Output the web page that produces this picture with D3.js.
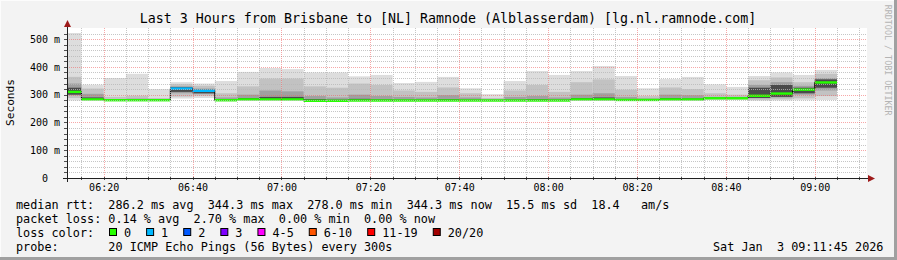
<!DOCTYPE html>
<html>
<head>
<meta charset="utf-8">
<script src="https://cdn.jsdelivr.net/npm/d3@7"></script>
<style>
  html, body { margin: 0; padding: 0; background: #f3f3f3; }
  svg { display: block; }
  text { font-family: "DejaVu Sans Mono", monospace; white-space: pre; }
</style>
</head>
<body>
<svg id="chart" width="897" height="260"></svg>
<script>
// 5 minute bins (start time of each step)
const binTimes = ["06:10","06:15","06:20","06:25","06:30","06:35","06:40","06:45","06:50","06:55",
  "07:00","07:05","07:10","07:15","07:20","07:25","07:30","07:35","07:40","07:45",
  "07:50","07:55","08:00","08:05","08:10","08:15","08:20","08:25","08:30","08:35",
  "08:40","08:45","08:50","08:55","09:00"];

// median rtt per bin (ms)
const medianMs = [310,283,280,280,280,322,314,280,283,283,
  283,278,278,279,279,279,279,279,279,279,
  279,279,279,283,283,281,281,283,283,287,
  287,296,304,318,344];

// lost pings out of 20
const lossCount = [0,0,0,0,0,1,1,0,0,0, 0,0,0,0,0,0,0,0,0,0, 0,0,0,0,0,0,0,0,0,0, 0,0,0,0,0];

// smoke: spread of the 20 pings (ms)
const pingMin = [279,280,278,278,278,286,288,276,279,280, 280,275,275,276,276,276,276,276,276,276,
  276,276,276,279,279,278,278,279,279,281, 281,278,279,280,281];
const pingMax = [522,336,360,375,320,345,340,349,382,396, 392,380,380,366,371,342,346,364,323,302,
  349,385,371,385,403,367,323,356,364,337, 328,367,380,371,389];
const pingLo1 = [288,281,279,279,279,293,296,278,281,282, 282,277,277,277,277,277,277,277,277,277,
  277,277,277,280,280,279,279,281,281,284, 284,281,283,287,295];
const pingHi1 = [364,322,292,296,288,338,332,305,330,358, 358,330,325,340,335,315,310,326,305,288,
  315,335,310,345,355,318,295,326,320,305, 300,352,362,345,375];
const pingLo2 = [298,282,280,280,280,305,302,280,283,283, 283,278,278,278,278,278,278,278,278,278,
  278,278,278,282,282,280,280,282,282,286, 286,287,290,300,315];
const pingHi2 = [340,303,284,286,283,330,322,290,300,315, 312,295,290,300,295,292,290,298,290,284,
  292,295,290,300,305,292,286,300,298,292, 292,335,345,332,360];
const pingLo3 = [300,282,280,280,280,310,305,280,282,283, 283,278,278,278,278,278,278,278,278,278,
  278,278,278,282,282,280,280,282,282,286, 286,288,292,305,325];
const pingHi3 = [325,290,281,281,281,327,318,282,288,292, 292,284,282,285,283,282,282,284,282,280,
  282,284,282,288,290,284,282,288,286,289, 289,325,335,325,355];

const yTicks = [0, 100, 200, 300, 400, 500];

const lossLegend = ["0", "1", "2", "3", "4-5", "6-10", "11-19", "20/20"];
const lossColors = ["#26ff00", "#00b8ff", "#0059ff", "#7e00ff", "#ff00ff", "#ff5500", "#ff0000", "#a10000"];

const legendLines = [
  "median rtt:  286.2 ms avg  344.3 ms max  278.0 ms min  344.3 ms now  15.5 ms sd  18.4   am/s",
  "packet loss: 0.14 % avg  2.70 % max  0.00 % min  0.00 % now",
  "loss color:",
  "probe:       20 ICMP Echo Pings (56 Bytes) every 300s"
];

const title = "Last 3 Hours from Brisbane to [NL] Ramnode (Alblasserdam) [lg.nl.ramnode.com]";
const stamp = "Sat Jan  3 09:11:45 2026";

const W = 897, H = 260;
const plot = { left: 67, top: 28, width: 800, height: 150 };

const parseT = d3.utcParse("%Y-%m-%d %H:%M:%S");
const day = "2026-01-03 ";
const tStart = parseT(day + "06:11:45");
const tEnd = parseT(day + "09:11:45");
const binDates = binTimes.map(t => parseT(day + t + ":00"));

const x = d3.scaleUtc().domain([tStart, tEnd]).range([plot.left, plot.left + plot.width]);
const y = d3.scaleLinear().domain([0, 540]).range([plot.top + plot.height, plot.top]);

const svg = d3.select("#chart");

// background + frame
svg.append("rect").attr("width", W).attr("height", H).attr("fill", "#f3f3f3");
svg.append("line").attr("x1", 0).attr("x2", W).attr("y1", 0.5).attr("y2", 0.5).attr("stroke", "#fcfcfc");
svg.append("line").attr("x1", 0.5).attr("x2", 0.5).attr("y1", 0).attr("y2", H).attr("stroke", "#fcfcfc");
svg.append("rect").attr("x", W - 3).attr("y", 0).attr("width", 3).attr("height", H).attr("fill", "#a0a0a0");
svg.append("rect").attr("x", 0).attr("y", H - 3).attr("width", W).attr("height", 3).attr("fill", "#a0a0a0");

svg.append("rect")
  .attr("x", plot.left).attr("y", plot.top)
  .attr("width", plot.width).attr("height", plot.height)
  .attr("fill", "#ffffff");

svg.append("clipPath").attr("id", "clip")
  .append("rect")
  .attr("x", plot.left).attr("y", plot.top)
  .attr("width", plot.width).attr("height", plot.height);

const g = svg.append("g").attr("clip-path", "url(#clip)");

// smoke bands, outer to inner
const bands = [
  { lo: pingMin, hi: pingMax, color: "#dddddd" },
  { lo: pingLo1, hi: pingHi1, color: "#c2c2c2" },
  { lo: pingLo2, hi: pingHi2, color: "#a0a0a0" },
  { lo: pingLo3, hi: pingHi3, color: "#4a4a4a" }
];
const binEnd = d => d3.utcMinute.offset(d, 5);

bands.forEach(b => {
  g.append("g").selectAll("rect")
    .data(binDates)
    .join("rect")
    .attr("x", d => x(d))
    .attr("width", d => x(binEnd(d)) - x(d))
    .attr("y", (d, i) => y(b.hi[i]))
    .attr("height", (d, i) => y(b.lo[i]) - y(b.hi[i]))
    .attr("fill", b.color);
});

// grid
const gridG = svg.append("g");
const minorTimes = d3.utcMinute.every(5).range(tStart, tEnd).filter(d => d.getUTCMinutes() % 20 !== 0);
const majorTimes = d3.utcMinute.every(20).range(tStart, tEnd);
const minorVals = d3.range(20, 540, 20).filter(v => v % 100 !== 0);
const majorVals = yTicks.filter(v => v > 0);

gridG.selectAll(".vminor").data(minorTimes).join("line")
  .attr("x1", d => Math.round(x(d)) + 0.5).attr("x2", d => Math.round(x(d)) + 0.5)
  .attr("y1", plot.top).attr("y2", plot.top + plot.height)
  .attr("stroke", "#b8b8b8").attr("stroke-opacity", 0.8).attr("stroke-dasharray", "1,1");
gridG.selectAll(".hminor").data(minorVals).join("line")
  .attr("x1", plot.left).attr("x2", plot.left + plot.width)
  .attr("y1", d => Math.round(y(d)) + 0.5).attr("y2", d => Math.round(y(d)) + 0.5)
  .attr("stroke", "#b8b8b8").attr("stroke-opacity", 0.8).attr("stroke-dasharray", "1,1");
gridG.selectAll(".vmajor").data(majorTimes).join("line")
  .attr("x1", d => Math.round(x(d)) + 0.5).attr("x2", d => Math.round(x(d)) + 0.5)
  .attr("y1", plot.top).attr("y2", plot.top + plot.height)
  .attr("stroke", "#f06060").attr("stroke-opacity", 0.55).attr("stroke-dasharray", "1,1");
gridG.selectAll(".hmajor").data(majorVals).join("line")
  .attr("x1", plot.left).attr("x2", plot.left + plot.width)
  .attr("y1", d => Math.round(y(d)) + 0.5).attr("y2", d => Math.round(y(d)) + 0.5)
  .attr("stroke", "#f06060").attr("stroke-opacity", 0.55).attr("stroke-dasharray", "1,1");

// median: thin black step line, then loss coloured segments
const stepPts = [];
binDates.forEach((d, i) => {
  stepPts.push([x(d), y(medianMs[i])]);
  stepPts.push([x(binEnd(d)), y(medianMs[i])]);
});
g.append("path")
  .attr("d", d3.line()(stepPts))
  .attr("fill", "none").attr("stroke", "#000").attr("stroke-width", 1);

const lossColor = n => n === 0 ? lossColors[0] : n === 1 ? lossColors[1] : n === 2 ? lossColors[2]
  : n === 3 ? lossColors[3] : n <= 5 ? lossColors[4] : n <= 10 ? lossColors[5] : n <= 19 ? lossColors[6] : lossColors[7];

g.append("g").selectAll("line")
  .data(binDates)
  .join("line")
  .attr("x1", d => x(d)).attr("x2", d => x(binEnd(d)))
  .attr("y1", (d, i) => y(medianMs[i])).attr("y2", (d, i) => y(medianMs[i]))
  .attr("stroke", (d, i) => lossColor(lossCount[i]))
  .attr("stroke-width", 2.4);

// axes
const xAxis = svg.append("g")
  .attr("transform", `translate(0,${plot.top + plot.height})`)
  .call(d3.axisBottom(x).tickValues(majorTimes).tickFormat(d3.utcFormat("%H:%M")).tickSize(0));
xAxis.select(".domain").remove();
xAxis.selectAll("text").attr("y", 12.5).attr("dy", 0)
  .style("font-size", "10px").style("font-family", "'DejaVu Sans Mono', monospace").attr("fill", "#000");

const yAxis = svg.append("g")
  .attr("transform", `translate(${plot.left},0)`)
  .call(d3.axisLeft(y).tickValues(yTicks).tickFormat(d => d === 0 ? "0" : d + " m").tickSize(0).tickPadding(7));
yAxis.select(".domain").remove();
yAxis.selectAll("text")
  .attr("dx", d => d === 0 ? -12 : 0)
  .style("font-size", "10px").style("font-family", "'DejaVu Sans Mono', monospace").attr("fill", "#000");

// tick marks
const tickG = svg.append("g").attr("stroke", "#505050");
tickG.selectAll(".xt").data(minorTimes.concat(majorTimes)).join("line")
  .attr("x1", d => Math.round(x(d)) + 0.5).attr("x2", d => Math.round(x(d)) + 0.5)
  .attr("y1", plot.top + plot.height - 1).attr("y2", plot.top + plot.height + 2);
tickG.selectAll(".yt").data(minorVals.concat(majorVals)).join("line")
  .attr("x1", plot.left - 3).attr("x2", plot.left + 1)
  .attr("y1", d => Math.round(y(d)) + 0.5).attr("y2", d => Math.round(y(d)) + 0.5);

// axis lines with arrows
const axY = plot.top + plot.height + 0.5;
svg.append("line").attr("x1", plot.left - 4).attr("x2", plot.left + plot.width + 5)
  .attr("y1", axY).attr("y2", axY).attr("stroke", "#202020");
svg.append("line").attr("x1", plot.left + 0.5).attr("x2", plot.left + 0.5)
  .attr("y1", plot.top + plot.height + 4).attr("y2", plot.top - 4).attr("stroke", "#202020");
svg.append("path")
  .attr("d", `M${plot.left + plot.width + 1},${axY - 3.5}L${plot.left + plot.width + 8},${axY}L${plot.left + plot.width + 1},${axY + 3.5}Z`)
  .attr("fill", "#9e1a1a");
svg.append("path")
  .attr("d", `M${plot.left + 0.5 - 3.5},${plot.top - 1}L${plot.left + 0.5},${plot.top - 8}L${plot.left + 0.5 + 3.5},${plot.top - 1}Z`)
  .attr("fill", "#9e1a1a");

// titles
svg.append("text")
  .attr("x", plot.left + plot.width / 2 - 19).attr("y", 23)
  .attr("text-anchor", "middle")
  .style("font-size", "13.3px").attr("fill", "#000")
  .text(title);

svg.append("text")
  .attr("transform", "translate(14,102.5) rotate(-90)")
  .attr("text-anchor", "middle")
  .style("font-size", "11.2px").attr("fill", "#000")
  .text("Seconds");

svg.append("text")
  .attr("transform", "translate(884.5,4.7) rotate(90)")
  .style("font-size", "8.4px").attr("fill", "#b4b4b4")
  .text("RRDTOOL / TOBI OETIKER");

// legend
const legY = [208.5, 222.5, 236.5, 250.5];
legendLines.forEach((line, i) => {
  svg.append("text")
    .attr("x", 16).attr("y", legY[i])
    .style("font-size", "11.8px").attr("fill", "#000")
    .text(line);
});

const charW = 7.11;
let bx = 109;
lossLegend.forEach((lab, i) => {
  svg.append("rect")
    .attr("x", bx + 0.5).attr("y", 228.5)
    .attr("width", 7).attr("height", 7)
    .attr("fill", lossColors[i]).attr("stroke", "#000");
  svg.append("text")
    .attr("x", bx + 15).attr("y", legY[2])
    .style("font-size", "11.8px").attr("fill", "#000")
    .text(lab);
  bx += 15 + charW * lab.length + 15;
});

svg.append("text")
  .attr("x", 713).attr("y", legY[3])
  .style("font-size", "11.8px").attr("fill", "#000")
  .text(stamp);
</script>
</body>
</html>
